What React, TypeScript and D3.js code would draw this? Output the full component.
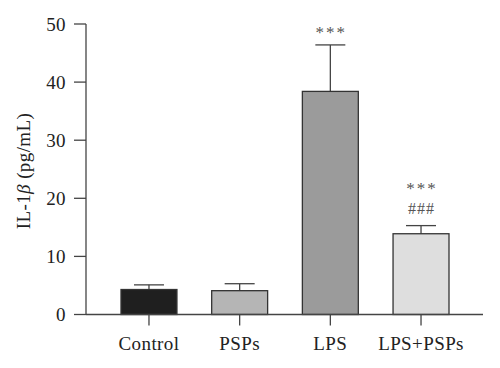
import React from "react";
import * as d3 from "d3";

const categories = ["Control", "PSPs", "LPS", "LPS+PSPs"];
const means = [4.3, 4.1, 38.4, 13.9];
const errors = [0.8, 1.2, 8.0, 1.4];
const fills = ["#1f1f1f", "#b5b5b5", "#9b9b9b", "#dedede"];
const yTicks = [0, 10, 20, 30, 40, 50];
const annotations = [[], [], ["***"], ["***", "###"]];

const W = 500, H = 368;
const x0 = 86, x1 = 483, yTop = 24, yBottom = 314.5;

export default function App() {
  const x = d3.scaleBand().domain(categories).range([121, 449]).paddingInner(0.383).paddingOuter(0);
  const y = d3.scaleLinear().domain([0, 50]).range([yBottom, yTop]);
  const font = "'Liberation Serif', 'DejaVu Serif', serif";
  const bw = x.bandwidth();
  return (
    <svg width={W} height={H} style={{ position: "absolute", left: 0, top: 0 }} fontFamily={font}>
      <rect width={W} height={H} fill="#fff" />
      {categories.map((c, i) => {
        const cx = (x(c) as number) + bw / 2;
        const topE = y(means[i] + errors[i]);
        return (
          <g key={c}>
            <line x1={cx} x2={cx} y1={y(means[i])} y2={topE} stroke="#444" strokeWidth={1.3} />
            <line x1={cx - 15} x2={cx + 15} y1={topE} y2={topE} stroke="#444" strokeWidth={1.3} />
            <rect x={x(c)} y={y(means[i])} width={bw} height={yBottom - y(means[i])} fill={fills[i]} stroke="#333" strokeWidth={1.3} />
            <line x1={cx} x2={cx} y1={yBottom} y2={yBottom + 11} stroke="#444" strokeWidth={1.3} />
            <text x={cx} y={350} textAnchor="middle" fontSize={19} letterSpacing={0.4} fill="#222">{c}</text>
            {annotations[i].map((a, j) => {
              const k = annotations[i].length - 1 - j;
              const isStar = a === "***";
              return (
                <text key={j} x={cx + (isStar ? 1 : 0.5)} y={topE - (isStar ? 7 : 12) - k * 25} textAnchor="middle"
                  fontSize={isStar ? 17 : 16} fill="#555" letterSpacing={isStar ? 2 : 1}>{a}</text>
              );
            })}
          </g>
        );
      })}
      <line x1={x0} x2={x1} y1={yBottom} y2={yBottom} stroke="#444" strokeWidth={1.3} />
      <line x1={x0} x2={x0} y1={yTop} y2={yBottom} stroke="#444" strokeWidth={1.3} />
      {yTicks.map((t) => (
        <g key={t}>
          <line x1={x0 - 12} x2={x0} y1={y(t)} y2={y(t)} stroke="#444" strokeWidth={1.3} />
          <text x={66} y={y(t) + 6.5} textAnchor="end" fontSize={19} letterSpacing={0.4} fill="#222">{t}</text>
        </g>
      ))}
      <text transform={`translate(30, 171) rotate(-90)`} textAnchor="middle" fontSize={19} letterSpacing={0.4} fill="#222">
        IL-1<tspan fontStyle="italic">β</tspan> (pg/mL)
      </text>
    </svg>
  );
}
